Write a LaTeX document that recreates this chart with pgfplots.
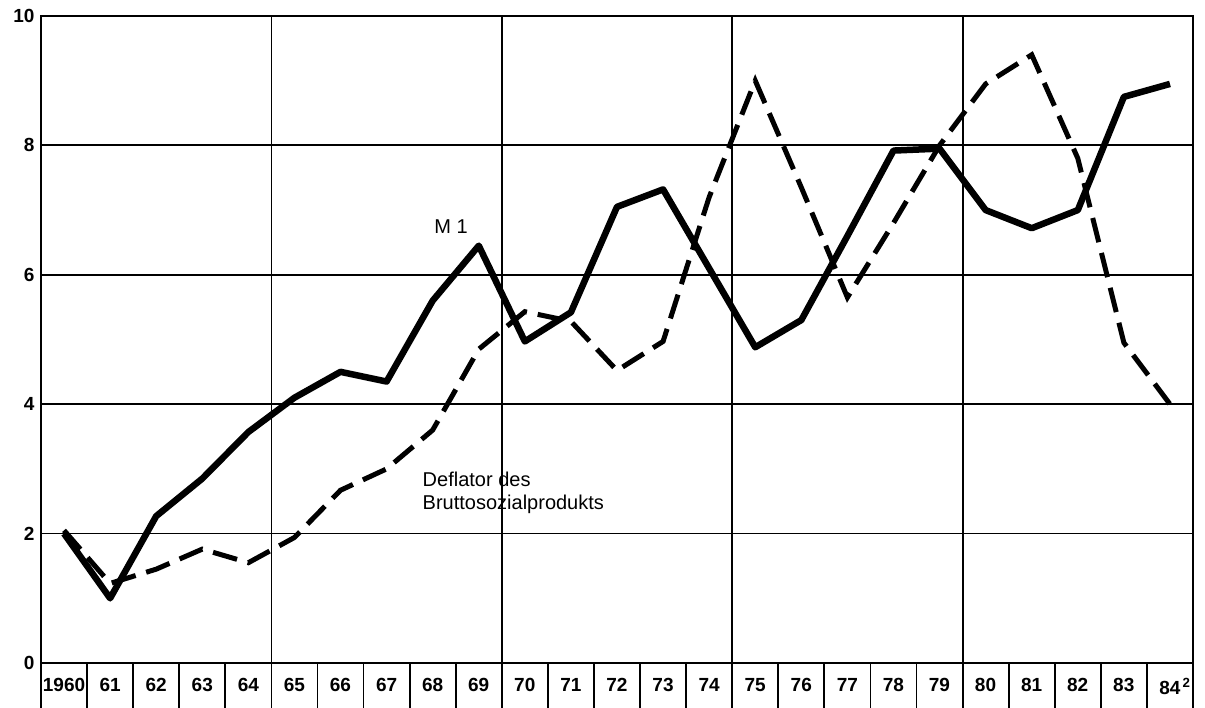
\documentclass[border=0pt]{standalone}
\usepackage{pgfplots}
\pgfplotsset{compat=1.18}
\usepackage{fontspec}
\setmainfont{Liberation Sans}
\begin{document}
\begin{tikzpicture}
\useasboundingbox (-41pt,-45pt) rectangle (1164pt,663pt);
\begin{axis}[
  at={(0,0)}, anchor=south west,
  scale only axis, width=1152pt, height=647pt,
  xmin=1960, xmax=1985, ymin=0, ymax=10,
  axis line style={line width=2pt},
  xtick={1960.5,1961.5,...,1984.5},
  xticklabels={1960,61,62,63,64,65,66,67,68,69,70,71,72,73,74,75,76,77,78,79,80,81,82,83,84\rlap{\textsuperscript{\,2}}},
  minor xtick={1960,1961,...,1985},
  xtick pos=left, ytick pos=left,
  tick align=outside,
  major tick length=0pt,
  minor tick length=46pt,
  minor x tick style={line width=1.8pt, black},
  extra x ticks={1965,1970,1975,1980},
  extra x tick labels={},
  extra x tick style={xmajorgrids=true, major tick length=0pt},
  ytick={0,2,4,6,8,10},
  ymajorgrids=true,
  grid style={line width=1.8pt, black},
  ticklabel style={font=\fontsize{19}{22}\selectfont\bfseries},
  /pgf/number format/assume math mode=true,
  xticklabel style={yshift=-12pt},
  yticklabel style={xshift=-3pt},
  clip=false,
]
\addplot[black, line width=6.5pt, line join=round] coordinates {
(1960.5,2.0) (1961.5,1.0) (1962.5,2.27) (1963.5,2.85) (1964.5,3.57)
(1965.5,4.1) (1966.5,4.5) (1967.5,4.35) (1968.5,5.6) (1969.5,6.45)
(1970.5,4.97) (1971.5,5.42) (1972.5,7.05) (1973.5,7.32) (1974.5,6.1)
(1975.5,4.88) (1976.5,5.3) (1977.5,6.6) (1978.5,7.92) (1979.5,7.95)
(1980.5,7.0) (1981.5,6.72) (1982.5,7.0) (1983.5,8.75) (1984.5,8.95)
};
\addplot[black, line width=5pt, dash pattern=on 25pt off 11pt] coordinates {
(1960.5,2.05) (1961.5,1.23) (1962.5,1.45) (1963.5,1.76) (1964.5,1.55)
(1965.5,1.94) (1966.5,2.67) (1967.5,3.0) (1968.5,3.6) (1969.5,4.85)
(1970.5,5.43) (1971.5,5.28) (1972.5,4.52) (1973.5,4.97) (1974.5,7.2)
(1975.5,9.0) (1976.5,7.35) (1977.5,5.65) (1978.5,6.8) (1979.5,8.0)
(1980.5,8.95) (1981.5,9.4) (1982.5,7.8) (1983.5,4.95) (1984.5,4.0)
};
\node[font=\fontsize{20}{23}\selectfont] at (axis cs:1968.9,6.74) {M 1};
\node[font=\fontsize{20}{23}\selectfont, anchor=north west, align=left, inner sep=0pt] at (axis cs:1968.28,2.95) {Deflator des\\Bruttosozialprodukts};
\end{axis}
\end{tikzpicture}
\end{document}
